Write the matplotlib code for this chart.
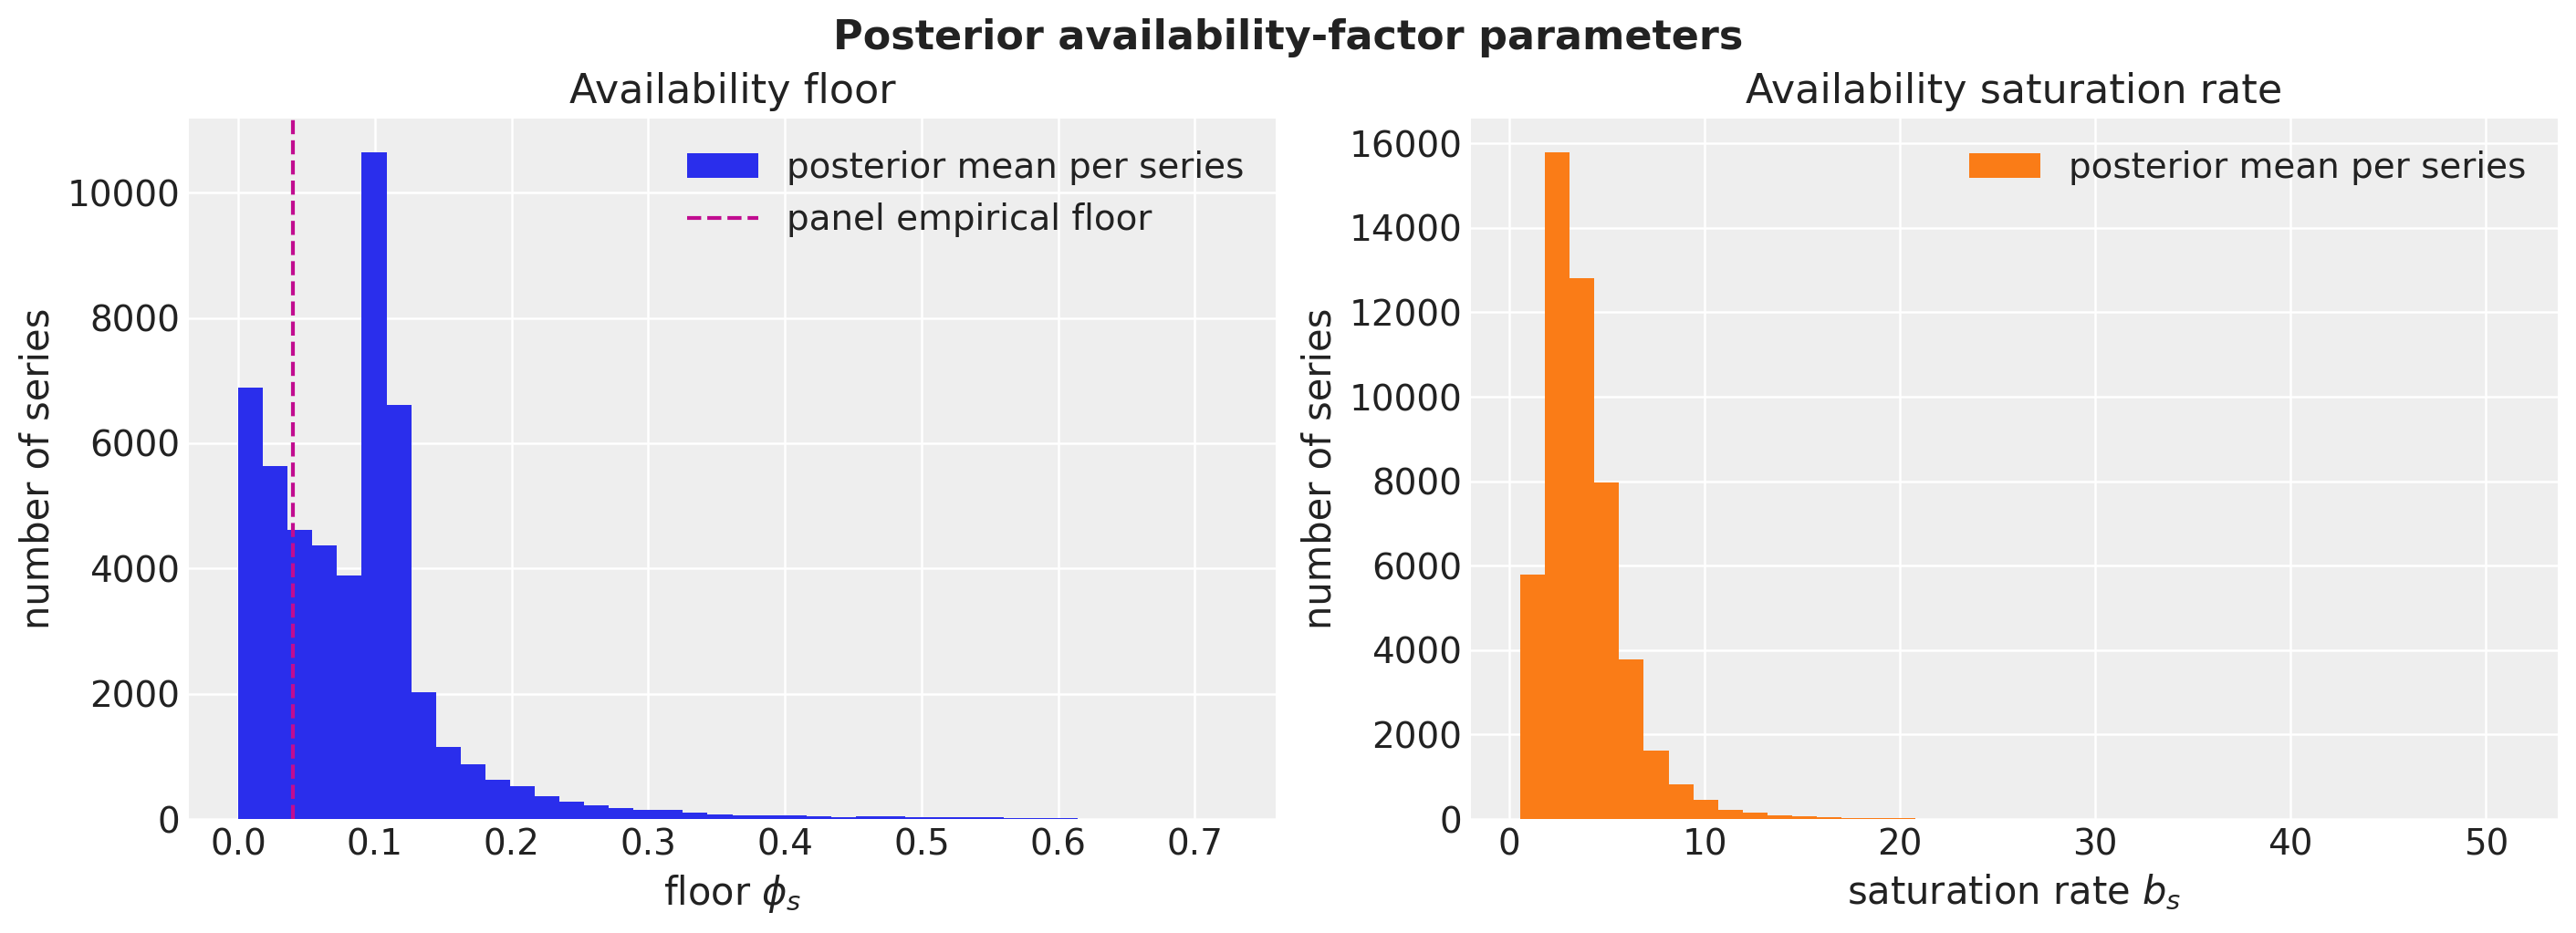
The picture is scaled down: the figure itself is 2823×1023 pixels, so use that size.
import numpy as np
import matplotlib
matplotlib.use("Agg")
import matplotlib.pyplot as plt

# histogram counts (40 bins each)
floor_counts = [6890, 5640, 4620, 4370, 3890, 10650, 6610, 2030, 1150, 880,
                625, 520, 360, 275, 215, 170, 140, 140, 100, 80,
                65, 52, 52, 37, 22, 37, 37, 22, 22, 22,
                22, 8, 8, 8, 2, 1, 1, 0, 0, 1]
floor_range = (0.0, 0.723)
empirical_floor = 0.04

rate_counts = [5790, 15800, 12810, 7980, 3770, 1610, 820, 455, 215, 155,
               90, 68, 34, 32, 20, 18, 4, 3, 2, 2,
               1, 1, 1, 1, 0, 1, 0, 0, 1, 0,
               0, 0, 0, 0, 1, 0, 0, 0, 0, 1]
rate_range = (0.55, 51.15)

BLUE = "#2a2eec"
ORANGE = "#fa7c17"
MAGENTA = "#c10c90"

# arviz-darkgrid look
plt.rcParams.update({
    "font.family": ["DejaVu Sans"],
    "figure.facecolor": "white",
    "axes.facecolor": "#eeeeee",
    "axes.edgecolor": "#eeeeee",
    "axes.grid": True,
    "axes.axisbelow": True,
    "axes.titlesize": 16,
    "axes.labelsize": 15,
    "grid.color": "white",
    "grid.linewidth": 0.9,
    "xtick.labelsize": 14,
    "ytick.labelsize": 14,
    "xtick.major.size": 0,
    "ytick.major.size": 0,
    "legend.fontsize": 14,
    "legend.frameon": False,
    "text.color": "#222222",
    "axes.labelcolor": "#222222",
    "xtick.color": "#222222",
    "ytick.color": "#222222",
})
for s in ("left", "right", "top", "bottom"):
    plt.rcParams["axes.spines." + s] = False


def bin_setup(counts, rng):
    edges = np.linspace(rng[0], rng[1], len(counts) + 1)
    centers = (edges[:-1] + edges[1:]) / 2
    return edges, centers


W, H = 2823, 1023
fig = plt.figure(figsize=(W / 200, H / 200), dpi=200)


def px_axes(x0, x1, top, bottom):
    return fig.add_axes([x0 / W, 1 - bottom / H, (x1 - x0) / W, (bottom - top) / H])


ax1 = px_axes(207, 1398, 130, 898)
ax2 = px_axes(1612, 2803, 130, 898)

# 1. floor
edges, centers = bin_setup(floor_counts, floor_range)
ax1.hist(centers, bins=edges, weights=floor_counts, color=BLUE,
         label="posterior mean per series")
ax1.axvline(empirical_floor, color=MAGENTA, linestyle="--", linewidth=1.5,
            label="panel empirical floor")
ax1.set_title("Availability floor")
ax1.set_xlabel(r"floor $\phi_s$")
ax1.set_ylabel("number of series")
ax1.set_yticks(np.arange(0, 10001, 2000))
ax1.legend(loc="upper right")

# 2. saturation rate
edges, centers = bin_setup(rate_counts, rate_range)
ax2.hist(centers, bins=edges, weights=rate_counts, color=ORANGE,
         label="posterior mean per series")
ax2.set_title("Availability saturation rate")
ax2.set_xlabel(r"saturation rate $b_s$")
ax2.set_ylabel("number of series")
ax2.set_yticks(np.arange(0, 16001, 2000))
ax2.legend(loc="upper right")

fig.suptitle("Posterior availability-factor parameters", fontsize=16,
             fontweight="bold", y=1 - 54 / H, va="baseline")

fig.savefig("out.png", dpi=200)
